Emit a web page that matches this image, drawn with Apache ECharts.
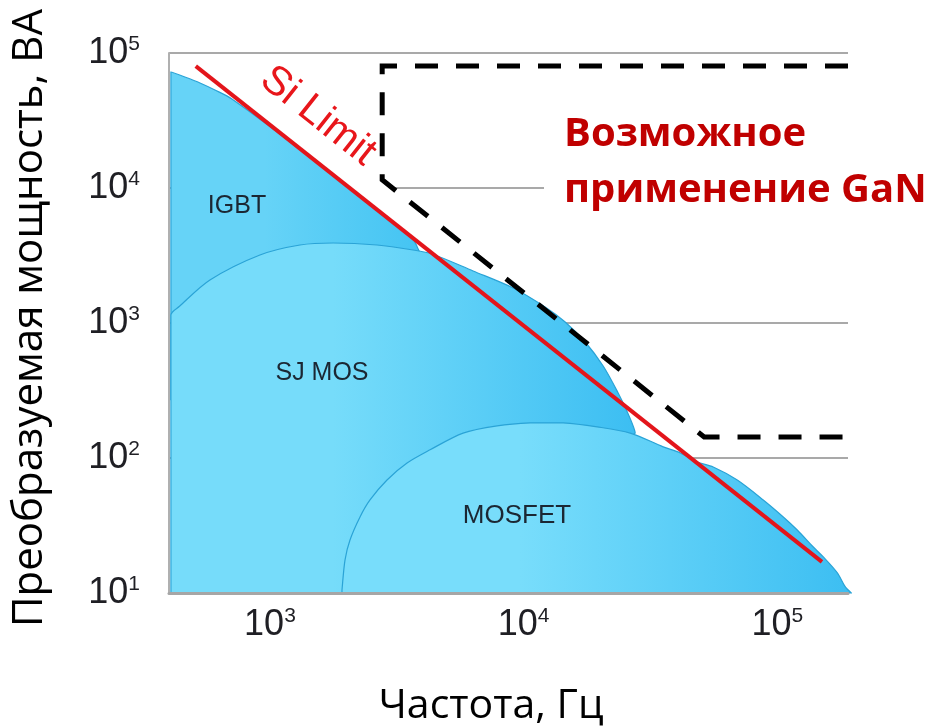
<!DOCTYPE html>
<html><head><meta charset="utf-8">
<script src="https://cdn.jsdelivr.net/npm/echarts@6/dist/echarts.min.js"></script>
<style>html,body{margin:0;padding:0;background:#fff}#c{width:928px;height:727px}</style>
</head><body><div id="c"></div>
<script>
// ---- data (frequency, Hz ; converted power, VA) ----
const freqTickExponents = [3, 4, 5];
const powerTickExponents = [1, 2, 3, 4, 5];

const siLimit = [[510, 80000], [150000, 17]];
const ganBoundary = [[190000, 80000], [2770, 80000], [2770, 11500], [51500, 143], [190000, 143]];

const igbtOutline = [[407, 72300], [462, 66400], [530, 60000], [607, 53200], [708, 45600],
  [1313, 19300], [2716, 6560], [3630, 4260], [3840, 3530], [4680, 1480], [407, 270]];

const sjmosOutline = [[407, 10], [407, 1146], [440, 1330], [580, 2082], [913, 3189], [1313, 3783],
  [1773, 3914], [2643, 3783], [3665, 3474], [4357, 3244], [6322, 2428], [9091, 1817], [12150, 1314],
  [14580, 1017], [17480, 723], [20590, 480], [23590, 303], [25840, 212], [27530, 153],
  [20040, 125], [8078, 81.5], [3906, 29.3], [3256, 10]];

const mosfetOutline = [[1923, 10], [1923, 10.5], [1977, 17.6], [2068, 24.7], [2265, 36.6], [2480, 48.9],
  [2894, 68.7], [3471, 91.8], [4278, 115], [5772, 153], [7863, 173], [10610, 182], [14320, 182],
  [19500, 170], [26310, 153], [35510, 121], [41440, 109], [48340, 93.4], [55910, 85.8], [69540, 68.7],
  [88050, 48.9], [105600, 36.6], [119900, 29.3], [138700, 21.9], [151900, 18.5], [172500, 14.1],
  [185500, 11.1], [196000, 10]];

// ---- helpers ----
function siPointAtPower(p) {
  const [a, b] = siLimit;
  const t = (Math.log10(p) - Math.log10(a[1])) / (Math.log10(b[1]) - Math.log10(a[1]));
  return [Math.pow(10, Math.log10(a[0]) + t * (Math.log10(b[0]) - Math.log10(a[0]))), p];
}
const ganMask = [siLimit[0], siPointAtPower(ganBoundary[3][1]), ganBoundary[3], ganBoundary[2], ganBoundary[1]];

function tickFormatter(exps) {
  return function (v) {
    const l = Math.log10(v), e = Math.round(l);
    if (Math.abs(l - e) > 1e-6 || exps.indexOf(e) < 0) return '';
    return '{b|10}{s|' + e + '}';
  };
}
const tickRich = {
  b: { fontSize: 36, fontFamily: 'Liberation Sans', color: '#1f1f24', lineHeight: 38, verticalAlign: 'middle' },
  s: { fontSize: 21, fontFamily: 'Liberation Sans', color: '#1f1f24', lineHeight: 20, verticalAlign: 'top' }
};

function grad(c0, c1) {
  return new echarts.graphic.LinearGradient(0, 0, 1, 0, [{ offset: 0, color: c0 }, { offset: 0.35, color: c0 }, { offset: 1, color: c1 }]);
}
function areaSeries(points, fill, stroke, smooth) {
  return {
    type: 'custom', coordinateSystem: 'cartesian2d', clip: false, silent: true,
    data: [points[0]],
    renderItem: function (params, api) {
      const pts = points.map(function (p) { return api.coord(p); });
      const xs = pts.map(function (p) { return p[0]; }), ys = pts.map(function (p) { return p[1]; });
      const cons = [[Math.min.apply(null, xs), Math.min.apply(null, ys)], [Math.max.apply(null, xs), Math.max.apply(null, ys)]];
      return {
        type: 'polygon',
        shape: { points: pts, smooth: smooth, smoothConstraint: cons },
        style: { fill: fill, stroke: stroke, lineWidth: stroke ? 1.2 : 0 }
      };
    }
  };
}

const chart = echarts.init(document.getElementById('c'), null, { renderer: 'canvas' });
chart.setOption({
  animation: false,
  backgroundColor: '#fff',
  grid: { left: 169, right: 80, top: 53, bottom: 134 },
  xAxis: {
    type: 'log', logBase: 10, min: 400, max: 190000, z: 10,
    axisLine: { show: true, lineStyle: { color: '#a6a6a6', width: 3 } },
    axisTick: { show: false },
    splitLine: { show: false },
    axisLabel: { margin: 13, formatter: tickFormatter(freqTickExponents), rich: tickRich }
  },
  yAxis: {
    type: 'log', logBase: 10, min: 10, max: 100000,
    axisLine: { show: true, lineStyle: { color: '#b0b0b0', width: 2 } },
    axisTick: { show: false },
    splitLine: { show: true, lineStyle: { color: '#a9a9a9', width: 2 } },
    axisLabel: { margin: 29, formatter: tickFormatter(powerTickExponents), rich: tickRich }
  },
  series: [
    areaSeries(ganMask, '#ffffff', null, 0),
    areaSeries(igbtOutline, grad('#66d3f7', '#40c2f2'), '#2aa3d6', 0.3),
    areaSeries(sjmosOutline, grad('#76dcfa', '#3cbef2'), '#2aa3d6', 0.3),
    areaSeries(mosfetOutline, grad('#78ddfb', '#3cbef2'), '#2aa3d6', 0.3),
    { type: 'line', data: siLimit, symbol: 'none', silent: true,
      lineStyle: { color: '#e3151b', width: 4 } },
    { type: 'line', data: ganBoundary, symbol: 'none', silent: true,
      lineStyle: { color: '#000', width: 5, type: [23, 18], join: 'miter' } }
  ],
  graphic: [
    { type: 'text', x: 318, y: 116, rotation: -Math.atan2(496, 626), z: 100,
      style: { text: 'Si Limit', fill: '#e8161b', fontSize: 41, fontFamily: 'Liberation Sans', align: 'center', verticalAlign: 'middle' } },
    { type: 'text', x: 237, y: 206, z: 100,
      style: { text: 'IGBT', fill: '#1b2733', fontSize: 25, fontFamily: 'Liberation Sans', align: 'center', verticalAlign: 'middle' } },
    { type: 'text', x: 322, y: 373, z: 100,
      style: { text: 'SJ MOS', fill: '#1b2733', fontSize: 25, fontFamily: 'Liberation Sans', align: 'center', verticalAlign: 'middle' } },
    { type: 'text', x: 517, y: 516, z: 100,
      style: { text: 'MOSFET', fill: '#1b2733', fontSize: 26, fontFamily: 'Liberation Sans', align: 'center', verticalAlign: 'middle' } },
    { type: 'text', x: 544, y: 107, z: 100,
      style: { text: 'Возможное\nприменение GaN', fill: '#c00000', fontSize: 40, fontWeight: 'bold', fontFamily: 'Open Sans',
        lineHeight: 56, align: 'left', verticalAlign: 'top', backgroundColor: '#fff', padding: [0, 10, 0, 20] } },
    { type: 'text', x: 30, y: 318, rotation: Math.PI / 2, z: 100,
      style: { text: 'Преобразуемая мощность, ВА', fill: '#000', fontSize: 42, fontFamily: 'Open Sans', align: 'center', verticalAlign: 'middle' } },
    { type: 'text', x: 491, y: 706, z: 100,
      style: { text: 'Частота, Гц', fill: '#000', fontSize: 41, fontFamily: 'Open Sans', align: 'center', verticalAlign: 'middle' } }
  ]
});
</script>
</body></html>
